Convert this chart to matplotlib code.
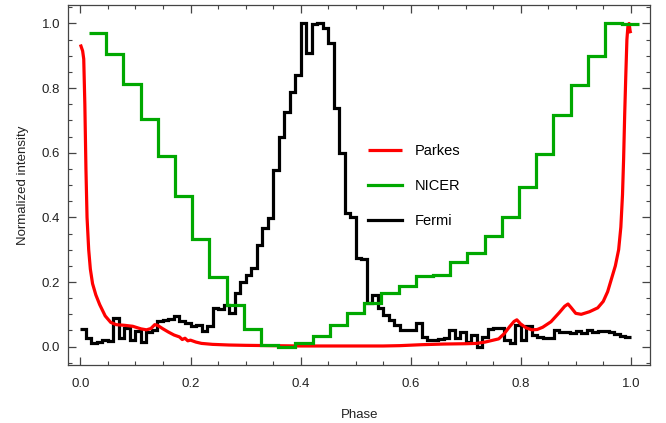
import numpy as np
import matplotlib
matplotlib.use("Agg")
import matplotlib.pyplot as plt
from matplotlib.ticker import MultipleLocator

# Parkes radio profile (smooth curve): phase, normalized intensity
parkes_phase = [0.000, 0.004, 0.006, 0.008, 0.010, 0.012, 0.015, 0.018, 0.022, 0.028,
                0.035, 0.045, 0.055, 0.065, 0.080, 0.095, 0.110, 0.120, 0.128, 0.135,
                0.140, 0.150, 0.160, 0.170, 0.180, 0.185, 0.190, 0.195, 0.200, 0.210,
                0.220, 0.240, 0.270, 0.300, 0.350, 0.400, 0.450, 0.500, 0.550, 0.580,
                0.620, 0.660, 0.700, 0.720, 0.735, 0.750, 0.760, 0.770, 0.780, 0.788,
                0.793, 0.800, 0.810, 0.820, 0.830, 0.840, 0.855, 0.870, 0.880, 0.886,
                0.892, 0.900, 0.910, 0.925, 0.940, 0.950, 0.958, 0.965, 0.972, 0.978,
                0.982, 0.985, 0.987, 0.989, 0.991, 0.993, 0.995, 0.997, 0.999, 1.000]
parkes_int = [0.935, 0.915, 0.890, 0.750, 0.550, 0.400, 0.300, 0.240, 0.195, 0.160,
              0.130, 0.095, 0.075, 0.068, 0.066, 0.063, 0.055, 0.052, 0.056, 0.068,
              0.066, 0.055, 0.045, 0.036, 0.030, 0.022, 0.026, 0.018, 0.020, 0.014,
              0.010, 0.007, 0.005, 0.004, 0.003, 0.002, 0.002, 0.002, 0.002, 0.003,
              0.006, 0.008, 0.009, 0.010, 0.014, 0.020, 0.024, 0.040, 0.062, 0.078,
              0.083, 0.070, 0.058, 0.052, 0.053, 0.060, 0.077, 0.105, 0.125, 0.132,
              0.120, 0.103, 0.100, 0.108, 0.120, 0.140, 0.170, 0.210, 0.250, 0.300,
              0.370, 0.470, 0.580, 0.720, 0.840, 0.950, 0.995, 1.000, 0.975, 0.970]

# NICER X-ray profile: 32 phase bins
nicer_n_bins = 32
nicer_offset = 1.0 / 64
nicer_counts = [0.970, 0.907, 0.812, 0.705, 0.591, 0.466, 0.333, 0.216,
                0.128, 0.054, 0.005, 0.000, 0.010, 0.033, 0.067, 0.104,
                0.136, 0.165, 0.188, 0.218, 0.222, 0.261, 0.290, 0.342,
                0.402, 0.495, 0.595, 0.716, 0.809, 0.900, 1.000, 0.998]

# Fermi gamma-ray profile: 100 phase bins
fermi_n_bins = 100
fermi_counts = [0.054, 0.026, 0.010, 0.015, 0.020, 0.018, 0.088, 0.028, 0.057, 0.020,
                0.047, 0.015, 0.044, 0.050, 0.078, 0.083, 0.085, 0.095, 0.078, 0.073,
                0.065, 0.068, 0.047, 0.063, 0.120, 0.117, 0.130, 0.104, 0.165, 0.201,
                0.222, 0.243, 0.315, 0.367, 0.397, 0.547, 0.650, 0.727, 0.789, 0.840,
                1.000, 0.910, 0.998, 1.000, 0.985, 0.940, 0.737, 0.600, 0.412, 0.400,
                0.273, 0.270, 0.136, 0.160, 0.119, 0.098, 0.083, 0.067, 0.050, 0.050,
                0.050, 0.072, 0.031, 0.021, 0.021, 0.024, 0.026, 0.052, 0.026, 0.046,
                0.015, 0.036, 0.000, 0.030, 0.054, 0.057, 0.057, 0.020, 0.012, 0.067,
                0.020, 0.065, 0.035, 0.030, 0.028, 0.026, 0.050, 0.045, 0.045, 0.043,
                0.048, 0.042, 0.050, 0.046, 0.048, 0.047, 0.044, 0.040, 0.033, 0.030]

series_labels = ["Parkes", "NICER", "Fermi"]
series_colors = ["#ff0000", "#00a800", "#000000"]

x_ticks = [0.0, 0.2, 0.4, 0.6, 0.8, 1.0]
y_ticks = [0.0, 0.2, 0.4, 0.6, 0.8, 1.0]

plt.rcParams["font.family"] = ["Liberation Sans", "DejaVu Sans"]

fig = plt.figure(figsize=(6.66, 4.23), dpi=100)
ax = fig.add_axes([0.1026, 0.137, 0.8734, 0.851])

nicer_edges = np.arange(nicer_n_bins + 1) / nicer_n_bins + nicer_offset
fermi_edges = np.arange(fermi_n_bins + 1) / fermi_n_bins

lw = 2.3
ax.stairs(fermi_counts, fermi_edges, baseline=None, color=series_colors[2],
          lw=lw, zorder=2, label=series_labels[2])
ax.plot(parkes_phase, parkes_int, color=series_colors[0], lw=lw, zorder=3,
        solid_capstyle="butt", label=series_labels[0])
ax.stairs(nicer_counts, nicer_edges, baseline=None, color=series_colors[1],
          lw=lw, zorder=4, label=series_labels[1])

ax.set_xlim(-0.022, 1.035)
ax.set_ylim(-0.057, 1.057)

frame_col = "#444444"
for s in ax.spines.values():
    s.set_color(frame_col)
    s.set_linewidth(0.9)

ax.set_xticks(x_ticks)
ax.set_yticks(y_ticks)
ax.xaxis.set_minor_locator(MultipleLocator(0.05))
ax.yaxis.set_minor_locator(MultipleLocator(0.05))
ax.set_xticklabels([f"{v:.1f}" for v in x_ticks])
ax.set_yticklabels([f"{v:.1f}" for v in y_ticks])
ax.tick_params(which="both", direction="in", top=True, right=True,
               color=frame_col, labelsize=9.5, labelcolor="#222222")
ax.tick_params(which="major", length=5.5, width=0.9)
ax.tick_params(axis="x", which="major", pad=9)
ax.tick_params(axis="y", which="major", pad=6)
ax.tick_params(which="minor", length=3, width=0.8)

ax.set_xlabel("Phase", fontsize=9.5, color="#222222", labelpad=14)
ax.set_ylabel("Normalized intensity", fontsize=9.5, color="#222222", labelpad=9)

handles, labels = ax.get_legend_handles_labels()
order = [labels.index(n) for n in series_labels]
ax.legend([handles[i] for i in order], [labels[i] for i in order],
          loc="center left", bbox_to_anchor=(0.492, 0.497), frameon=False,
          fontsize=10.5, handlelength=2.35, handletextpad=0.85,
          labelspacing=1.45)

fig.savefig("out.png", dpi=100)
